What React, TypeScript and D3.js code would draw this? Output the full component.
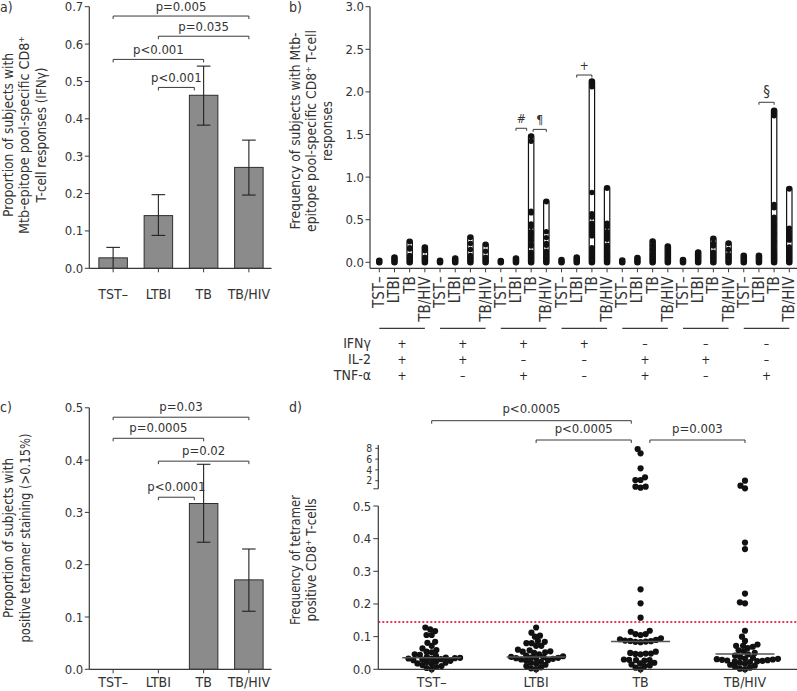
import React from "react";
import * as d3 from "d3";

const FONT = "'Liberation Sans Narrow','DejaVu Sans Condensed',Roboto,'Noto Sans',sans-serif";
const TXT = "#333";
const LINE = "#3a3a3a";

// ---------- shared categories ----------
const cats = ["TST–", "LTBI", "TB", "TB/HIV"];

// ---------- panel a: IFNγ proportions ----------
const ifnProp = [0.028, 0.141, 0.463, 0.27];
const ifnLo = [0.0, 0.088, 0.383, 0.196];
const ifnHi = [0.056, 0.197, 0.541, 0.343];
const aTicks = [0, 0.1, 0.2, 0.3, 0.4, 0.5, 0.6, 0.7];
const aBrackets = [
  { a: 0, b: 3, level: 0.675, label: "p=0.005", trim: false },
  { a: 1, b: 3, level: 0.621, label: "p=0.035", trim: false },
  { a: 0, b: 2, level: 0.559, label: "p<0.001", trim: false },
  { a: 1, b: 2, level: 0.484, label: "p<0.001", trim: true },
];

// ---------- panel c: tetramer proportions ----------
const tetProp = [0, 0, 0.317, 0.171];
const tetLo = [0, 0, 0.243, 0.111];
const tetHi = [0, 0, 0.392, 0.23];
const cTicks = [0, 0.1, 0.2, 0.3, 0.4, 0.5];
const cBrackets = [
  { a: 0, b: 3, level: 0.482, label: "p=0.03", trim: false },
  { a: 0, b: 2, level: 0.4417, label: "p=0.0005", trim: false },
  { a: 1, b: 3, level: 0.398, label: "p=0.02", trim: false },
  { a: 1, b: 2, level: 0.329, label: "p<0.0001", trim: true },
];

// ---------- panel b: cytokine combinations ----------
const bTicks = [0, 0.5, 1, 1.5, 2, 2.5, 3];
const bColumns: number[][] = [
  // IFNγ+ IL-2+ TNF-α+
  [0, 0.018],
  [0, 0.02, 0.04, 0.056],
  [0, 0.02, 0.04, 0.06, 0.08, 0.155, 0.17, 0.24],
  [0, 0.02, 0.04, 0.06, 0.135, 0.155, 0.174],
  // IFNγ+ IL-2+ TNF-α−
  [0, 0.018],
  [0, 0.02, 0.045],
  [0, 0.02, 0.04, 0.06, 0.08, 0.15, 0.22, 0.29],
  [0, 0.02, 0.04, 0.06, 0.13, 0.205],
  // IFNγ+ IL-2− TNF-α+
  [0, 0.015],
  [0, 0.02, 0.045],
  [0, 0.02, 0.04, 0.06, 0.08, 0.1, 0.12, 0.19, 0.21, 0.26, 0.3, 0.33, 0.36, 0.42, 0.45, 0.58, 0.6, 1.42, 1.476],
  [0, 0.02, 0.04, 0.06, 0.08, 0.1, 0.13, 0.2, 0.22, 0.29, 0.36, 0.71],
  // IFNγ+ IL-2− TNF-α−
  [0, 0.025],
  [0, 0.02, 0.04, 0.056],
  [0, 0.02, 0.04, 0.06, 0.08, 0.1, 0.12, 0.15, 0.17, 0.31, 0.34, 0.37, 0.4, 0.43, 0.46, 0.53, 0.57, 0.82, 2.06, 2.1, 2.122],
  [0, 0.02, 0.04, 0.06, 0.08, 0.1, 0.12, 0.15, 0.18, 0.2, 0.27, 0.3, 0.33, 0.36, 0.42, 0.46, 0.87],
  // IFNγ− IL-2+ TNF-α+
  [0, 0.02],
  [0, 0.025, 0.05],
  [0, 0.02, 0.04, 0.06, 0.08, 0.1, 0.14, 0.16, 0.2, 0.245],
  [0, 0.03, 0.06, 0.09, 0.12, 0.15, 0.185],
  // IFNγ− IL-2+ TNF-α−
  [0, 0.025],
  [0, 0.03, 0.06, 0.09, 0.115],
  [0, 0.03, 0.06, 0.09, 0.12, 0.19, 0.22, 0.275],
  [0, 0.03, 0.06, 0.09, 0.15, 0.22],
  // IFNγ− IL-2− TNF-α+
  [0, 0.025, 0.05, 0.076],
  [0, 0.025, 0.05, 0.076],
  [0, 0.02, 0.04, 0.06, 0.08, 0.1, 0.12, 0.15, 0.19, 0.23, 0.26, 0.3, 0.33, 0.36, 0.4, 0.43, 0.46, 0.5, 0.53, 0.64, 0.68, 1.72, 1.75, 1.778],
  [0, 0.02, 0.04, 0.06, 0.08, 0.1, 0.12, 0.15, 0.18, 0.26, 0.29, 0.32, 0.36, 0.4, 0.86],
];
const rowNames = ["IFNγ", "IL-2", "TNF-α"];
const ifnSigns = ["+", "+", "+", "+", "–", "–", "–"];
const il2Signs = ["+", "+", "–", "–", "+", "+", "–"];
const tnfSigns = ["+", "–", "+", "–", "+", "–", "+"];
const bMarks = [
  { a: 9, b: 10, level: 1.573, label: "#", trimB: true, trimA: false },
  { a: 10, b: 11, level: 1.56, label: "¶", trimB: false, trimA: true },
  { a: 13, b: 14, level: 2.198, label: "+", trimB: false, trimA: false },
  { a: 25, b: 26, level: 1.878, label: "§", trimB: false, trimA: false },
];

// ---------- panel d: tetramer frequencies ----------
const dTSTneg = [0.128, 0.122, 0.117, 0.105, 0.105, 0.084, 0.081, 0.072, 0.064, 0.059, 0.054, 0.052, 0.046, 0.044, 0.041, 0.038, 0.036, 0.035, 0.034, 0.033, 0.032, 0.031, 0.03, 0.028, 0.026, 0.024, 0.022, 0.02, 0.018, 0.016, 0.013, 0.01, 0.007, 0.004, 0.0];
const dLTBI = [0.128, 0.112, 0.103, 0.1, 0.087, 0.084, 0.08, 0.08, 0.072, 0.072, 0.06, 0.058, 0.055, 0.054, 0.052, 0.05, 0.046, 0.042, 0.04, 0.038, 0.037, 0.036, 0.035, 0.034, 0.033, 0.032, 0.03, 0.028, 0.026, 0.023, 0.02, 0.017, 0.014, 0.01, 0.006, 0.003, 0.0];
const dTB = [7.87, 7.07, 4.3, 2.63, 2.13, 2.13, 0.89, 0.7, 0.89, 0.245, 0.202, 0.158, 0.118, 0.115, 0.108, 0.108, 0.105, 0.095, 0.092, 0.09, 0.088, 0.087, 0.086, 0.085, 0.084, 0.083, 0.054, 0.05, 0.048, 0.048, 0.047, 0.046, 0.03, 0.029, 0.028, 0.028, 0.027, 0.02, 0.018, 0.015, 0.012, 0.01, 0.005, 0.0];
const dTBHIV = [2.0, 1.07, 0.59, 0.388, 0.368, 0.232, 0.205, 0.202, 0.118, 0.1, 0.087, 0.076, 0.072, 0.072, 0.069, 0.065, 0.058, 0.055, 0.05, 0.046, 0.042, 0.038, 0.035, 0.033, 0.032, 0.031, 0.03, 0.029, 0.028, 0.027, 0.026, 0.025, 0.024, 0.022, 0.02, 0.017, 0.014, 0.011, 0.008, 0.005, 0.002, 0.0];
const dGroups = [dTSTneg, dLTBI, dTB, dTBHIV];
const dMedians = [0.035, 0.038, 0.085, 0.047];
const dThreshold = 0.145;
const dLowTicks = [0, 0.1, 0.2, 0.3, 0.4, 0.5];
const dUpTicks = [2, 4, 6, 8];
const dBrackets = [
  { a: 0, b: 2, row: 1, label: "p<0.0005", trimA: false, trimB: true },
  { a: 1, b: 2, row: 0, label: "p<0.0005", trimA: false, trimB: true },
  { a: 2, b: 3, row: 0, label: "p=0.003", trimA: true, trimB: false },
];

// ---------- helpers ----------
const fmt1 = d3.format(".1f");

function swarm(ys: number[], diam: number): number[] {
  const order = ys.map((y, i) => i).sort((i, j) => ys[j] - ys[i]);
  const placed: { x: number; y: number }[] = [];
  const xs = new Array(ys.length).fill(0);
  for (const i of order) {
    const y = ys[i];
    const cands = [0];
    for (const p of placed) {
      const dy = Math.abs(p.y - y);
      if (dy < diam) {
        const dx = Math.sqrt(diam * diam - dy * dy);
        cands.push(p.x + dx + 0.01, p.x - dx - 0.01);
      }
    }
    cands.sort((a, b) => Math.abs(a) - Math.abs(b) || a - b);
    let chosen = 0;
    for (const c of cands) {
      let ok = true;
      for (const p of placed) {
        const dx = p.x - c, dy = p.y - y;
        if (dx * dx + dy * dy < diam * diam - 0.001) { ok = false; break; }
      }
      if (ok) { chosen = c; break; }
    }
    xs[i] = chosen;
    placed.push({ x: chosen, y });
  }
  return xs;
}

function Bracket({ x1, x2, y, label, fs = 13, dy = -6, tick = 3 }: any) {
  return (
    <g>
      <path d={`M${x1},${y + tick}V${y}H${x2}V${y + tick}`} fill="none" stroke={LINE} strokeWidth={1} />
      <text x={(x1 + x2) / 2} y={y + dy} textAnchor="middle" fontSize={fs} fill={TXT}>{label}</text>
    </g>
  );
}

function RotTitle({ cy, lines, lengths, baselines, fs }: any) {
  return (
    <g>
      {lines.map((ln: string, i: number) => (
        <text key={i} transform={`translate(${baselines[i]},${cy}) rotate(-90)`} textAnchor="middle" fontSize={fs} fill={TXT}
          textLength={lengths[i]} lengthAdjust="spacingAndGlyphs">{ln}</text>
      ))}
    </g>
  );
}

function BarPanel({ yScale, ticks, values, lo, hi, brackets, axisX, labelBaseline, textDy }: any) {
  const x = d3.scaleBand<string>().domain(cats).range([90.5, 271.5]).paddingInner(0.37).paddingOuter(0.185);
  const y0 = yScale(0);
  const yTop = yScale(ticks[ticks.length - 1]);
  const bw = x.bandwidth();
  const cx = (i: number) => (x(cats[i]) as number) + bw / 2;
  return (
    <g>
      {values.map((v: number, i: number) => v > 0 ? (
        <rect key={i} x={x(cats[i])} y={yScale(v)} width={bw} height={y0 - yScale(v)} fill="#8b8b8b" stroke="#2e2e2e" strokeWidth={1} />
      ) : null)}
      {values.map((v: number, i: number) => hi[i] > 0 ? (
        <g key={"e" + i} stroke="#222" strokeWidth={1.1}>
          <line x1={cx(i)} x2={cx(i)} y1={yScale(lo[i])} y2={yScale(hi[i])} />
          <line x1={cx(i) - 6.8} x2={cx(i) + 6.8} y1={yScale(hi[i])} y2={yScale(hi[i])} />
          {lo[i] > 0 ? <line x1={cx(i) - 6.8} x2={cx(i) + 6.8} y1={yScale(lo[i])} y2={yScale(lo[i])} /> : null}
        </g>
      ) : null)}
      <line x1={axisX} x2={axisX} y1={yTop} y2={y0} stroke={LINE} strokeWidth={1.2} />
      <line x1={axisX} x2={271.5} y1={y0} y2={y0} stroke={LINE} strokeWidth={1.2} />
      {ticks.map((t: number) => (
        <g key={t}>
          <line x1={axisX - 4.5} x2={axisX} y1={yScale(t)} y2={yScale(t)} stroke={LINE} strokeWidth={1} />
          <text x={axisX - 6} y={yScale(t) + 4.5} textAnchor="end" fontSize={13} fill={TXT}>{fmt1(t)}</text>
        </g>
      ))}
      {cats.map((c, i) => (
        <g key={c}>
          <line x1={cx(i)} x2={cx(i)} y1={y0} y2={y0 + 4} stroke={LINE} strokeWidth={1} />
          <text x={cx(i)} y={labelBaseline} textAnchor="middle" fontSize={14} fill={TXT}>{c}</text>
        </g>
      ))}
      {brackets.map((b: any, i: number) => (
        <Bracket key={i} x1={cx(b.a)} x2={b.trim ? cx(b.b) - 9.3 : cx(b.b)} y={yScale(b.level)} label={b.label} dy={textDy} />
      ))}
    </g>
  );
}

function PanelB() {
  const idx = bColumns.map((_, i) => i);
  const x = d3.scalePoint<number>().domain(idx).range([379.3, 789.3]);
  const y = d3.scaleLinear().domain([0, 3]).range([262.3, 6.7]);
  const axisX = 370;
  const baseY = 268.3;
  const r = 2.7;
  const bLabels = bColumns.map((_, i) => cats[i % 4]);
  const groups = d3.range(7);
  const signRows = [ifnSigns, il2Signs, tnfSigns];
  return (
    <g>
      <line x1={axisX} x2={axisX} y1={y(3)} y2={baseY} stroke={LINE} strokeWidth={1.2} />
      <line x1={axisX} x2={797} y1={baseY} y2={baseY} stroke={LINE} strokeWidth={1.2} />
      {bTicks.map((t) => (
        <g key={t}>
          <line x1={axisX - 4.5} x2={axisX} y1={y(t)} y2={y(t)} stroke={LINE} strokeWidth={1} />
          <text x={axisX - 6} y={y(t) + 4.5} textAnchor="end" fontSize={13} fill={TXT}>{fmt1(t)}</text>
        </g>
      ))}
      {bColumns.map((vals, i) => {
        const cx = x(i) as number;
        const mx = d3.max(vals) as number;
        return (
          <g key={i}>
            <rect x={cx - r} width={2 * r} y={y(mx) - r} height={y(0) - y(mx) + 2 * r} rx={r} fill="#fff" stroke="#111" strokeWidth={1.2} />
            {vals.map((v, j) => <circle key={j} cx={cx} cy={y(v)} r={r} fill="#111" />)}
            <line x1={cx} x2={cx} y1={baseY} y2={baseY + 4} stroke={LINE} strokeWidth={1} />
            <text transform={`translate(${cx + 5},${baseY + 8}) rotate(-90)`} textAnchor="end" fontSize={15} fill={TXT}>{bLabels[i]}</text>
          </g>
        );
      })}
      {bMarks.map((m, i) => {
        const x1 = (x(m.a) as number) + (m.trimA ? 2 : 0);
        const x2 = (x(m.b) as number) - (m.trimB ? 4.5 : 0);
        const yy = y(m.level);
        return <Bracket key={i} x1={x1} x2={x2} y={yy} label={m.label} fs={m.label === "§" ? 15 : 12} dy={-5} tick={2.5} />;
      })}
      {groups.map((g) => {
        const x1 = x(g * 4) as number;
        const x2 = x(g * 4 + 3) as number;
        const gc = (x1 + x2) / 2;
        return (
          <g key={g}>
            <line x1={x1} x2={x2} y1={328.3} y2={328.3} stroke={LINE} strokeWidth={1.2} />
            {signRows.map((row, k) => (
              <text key={k} x={gc} y={347.5 + k * 16} textAnchor="middle" fontSize={12} fill="#222">{row[g]}</text>
            ))}
          </g>
        );
      })}
      {rowNames.map((n, k) => (
        <text key={n} x={371} y={348 + k * 16} textAnchor="end" fontSize={14} fill={TXT}>{n}</text>
      ))}
    </g>
  );
}

function PanelD() {
  const x = d3.scalePoint<string>().domain(cats).range([431.7, 745]);
  const yLow = d3.scaleLinear().domain([0, 0.5]).range([669.3, 506]);
  const yUp = d3.scaleLinear().domain([2, 8]).range([480.7, 448.3]);
  const yv = (v: number) => (v > 0.5 ? yUp(v) : yLow(v));
  const axisX = 378.3;
  const base = yLow(0);
  const rowY = [440, 420.7];
  return (
    <g>
      <line x1={axisX} x2={797} y1={yLow(dThreshold)} y2={yLow(dThreshold)} stroke="#e8385e" strokeWidth={2} strokeDasharray="2,2" />
      {dGroups.map((vals, gi) => {
        const ys = vals.map(yv);
        const xs = swarm(ys, 5.2);
        const cx = x(cats[gi]) as number;
        return (
          <g key={gi}>
            {vals.map((v, j) => <circle key={j} cx={cx + xs[j]} cy={ys[j]} r={3.1} fill="#111" />)}
            <line x1={cx - 29.5} x2={cx + 29.5} y1={yLow(dMedians[gi])} y2={yLow(dMedians[gi])} stroke="#555" strokeWidth={1.5} />
          </g>
        );
      })}
      <line x1={axisX} x2={axisX} y1={yLow(0.5)} y2={base} stroke={LINE} strokeWidth={1.2} />
      <line x1={axisX} x2={797} y1={base} y2={base} stroke={LINE} strokeWidth={1.2} />
      {dLowTicks.map((t) => (
        <g key={t}>
          <line x1={axisX - 5} x2={axisX} y1={yLow(t)} y2={yLow(t)} stroke={LINE} strokeWidth={1} />
          <text x={axisX - 7} y={yLow(t) + 4.5} textAnchor="end" fontSize={13} fill={TXT}>{fmt1(t)}</text>
        </g>
      ))}
      <line x1={axisX} x2={axisX} y1={yUp(8.6)} y2={yUp(0.5)} stroke={LINE} strokeWidth={1.2} />
      <line x1={axisX - 5} x2={axisX} y1={yUp(0.5)} y2={yUp(0.5)} stroke={LINE} strokeWidth={1} />
      {dUpTicks.map((t) => (
        <g key={t}>
          <line x1={axisX - 3} x2={axisX} y1={yUp(t)} y2={yUp(t)} stroke={LINE} strokeWidth={1} />
          <text x={axisX - 6} y={yUp(t) + 3.6} textAnchor="end" fontSize={10.5} fill={TXT}>{t}</text>
        </g>
      ))}
      {cats.map((c) => (
        <g key={c}>
          <line x1={x(c)} x2={x(c)} y1={base} y2={base + 4} stroke={LINE} strokeWidth={1} />
          <text x={x(c)} y={687} textAnchor="middle" fontSize={14} fill={TXT}>{c}</text>
        </g>
      ))}
      {dBrackets.map((b, i) => (
        <Bracket key={i} x1={(x(cats[b.a]) as number) + (b.trimA ? 9.3 : 0)} x2={(x(cats[b.b]) as number) - (b.trimB ? 9.3 : 0)} y={rowY[b.row]} label={b.label} dy={-7.5} />
      ))}
    </g>
  );
}

export default function App() {
  const yA = d3.scaleLinear().domain([0, 0.7]).range([268.3, 6.7]);
  const yC = d3.scaleLinear().domain([0, 0.5]).range([669.3, 407.8]);
  return (
    <svg width={797} height={691} style={{ position: "absolute", left: 0, top: 0, background: "#fff" }} fontFamily={FONT}>
      <rect width={797} height={691} fill="#fff" />
      <text x={0} y={12} fontSize={14} fill={TXT}>a)</text>
      <text x={289} y={12} fontSize={14} fill={TXT}>b)</text>
      <text x={0} y={412} fontSize={14} fill={TXT}>c)</text>
      <text x={289} y={412} fontSize={14} fill={TXT}>d)</text>

      <RotTitle cy={135} fs={13.5} baselines={[12.5, 29, 45.5]} lengths={[164, 198, 135]}
        lines={["Proportion of subjects with", "Mtb-epitope pool-specific CD8⁺", "T-cell responses (IFNγ)"]} />
      <BarPanel yScale={yA} ticks={aTicks} values={ifnProp} lo={ifnLo} hi={ifnHi} brackets={aBrackets} axisX={89.3} labelBaseline={299} textDy={-5} />

      <RotTitle cy={131} fs={13.5} baselines={[299.5, 315.5, 331.5]} lengths={[197, 202, 60]}
        lines={["Frequency of subjects with Mtb-", "epitope pool-specific CD8⁺ T-cell", "responses"]} />
      <PanelB />

      <RotTitle cy={538} fs={13.5} baselines={[12.5, 29.5]} lengths={[160, 209]}
        lines={["Proportion of subjects with", "positive tetramer staining (>0.15%)"]} />
      <BarPanel yScale={yC} ticks={cTicks} values={tetProp} lo={tetLo} hi={tetHi} brackets={cBrackets} axisX={89.3} labelBaseline={687} textDy={-6} />

      <RotTitle cy={560} fs={13.5} baselines={[300, 315.5]} lengths={[130, 123]}
        lines={["Frequency of tetramer", "positive CD8⁺ T-cells"]} />
      <PanelD />
    </svg>
  );
}
